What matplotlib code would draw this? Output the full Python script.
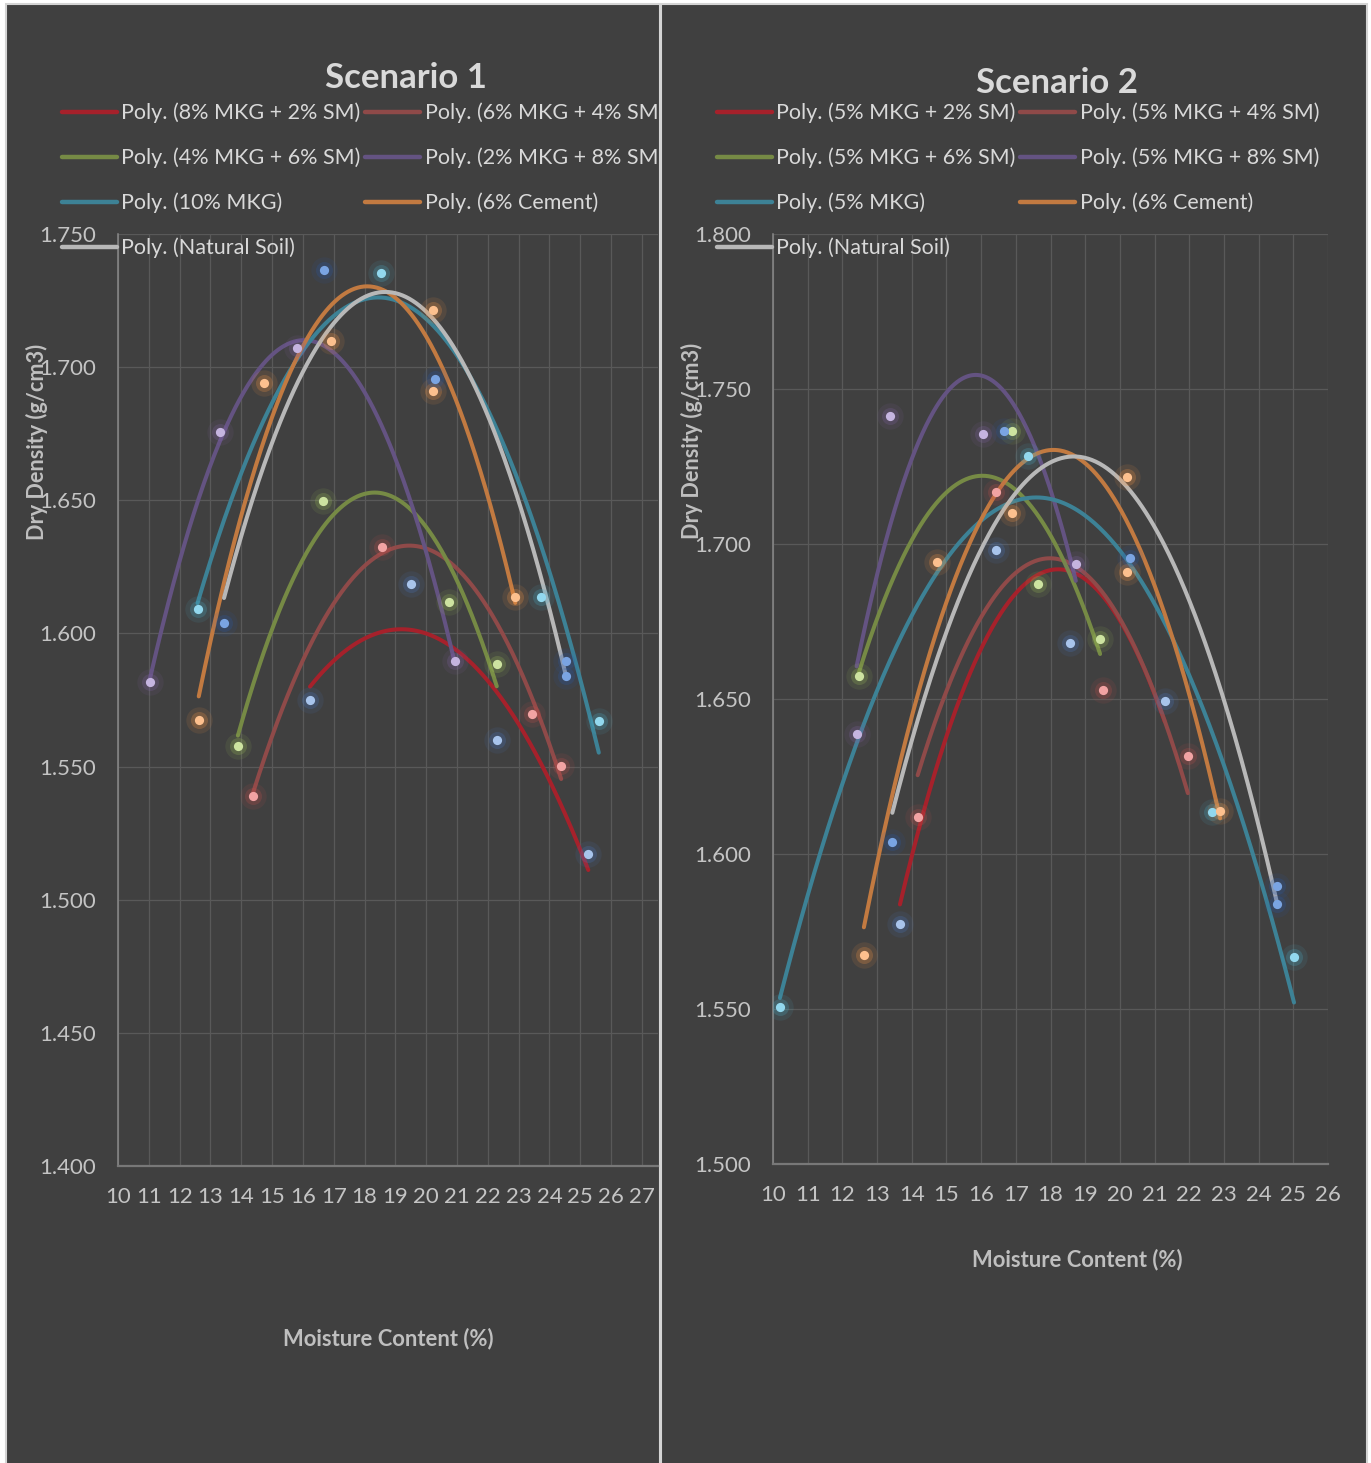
import numpy as np
import matplotlib
matplotlib.use('Agg')
import matplotlib.pyplot as plt
from matplotlib.patches import Rectangle
from matplotlib.ticker import FormatStrFormatter

W, H = 1371, 1463
DPI = 100
plt.rcParams['font.family'] = ['Lato', 'DejaVu Sans']

# ---------------- data (moisture content %, dry density g/cm3) ----------------
# Scenario 1
s1_8mkg_2sm_x = [16.23, 19.51, 22.29, 25.26]
s1_8mkg_2sm_y = [1.575, 1.6185, 1.560, 1.517]
s1_6mkg_4sm_x = [14.37, 18.56, 23.42, 24.38]
s1_6mkg_4sm_y = [1.539, 1.6324, 1.5697, 1.5502]
s1_4mkg_6sm_x = [13.89, 16.65, 20.73, 22.29]
s1_4mkg_6sm_y = [1.5577, 1.6497, 1.6118, 1.5886]
s1_2mkg_8sm_x = [11.04, 13.30, 15.80, 20.92]
s1_2mkg_8sm_y = [1.5817, 1.6756, 1.7073, 1.5896]
s1_10mkg_x = [12.58, 18.53, 23.74, 25.60]
s1_10mkg_y = [1.609, 1.7355, 1.6136, 1.5672]
# Scenario 2
s2_5mkg_2sm_x = [13.66, 16.43, 18.57, 21.29]
s2_5mkg_2sm_y = [1.5774, 1.698, 1.6682, 1.6493]
s2_5mkg_4sm_x = [14.17, 16.43, 19.50, 21.96]
s2_5mkg_4sm_y = [1.6119, 1.7168, 1.6529, 1.6316]
s2_5mkg_6sm_x = [12.47, 16.89, 17.65, 19.43]
s2_5mkg_6sm_y = [1.6574, 1.7364, 1.6871, 1.6694]
s2_5mkg_8sm_x = [12.41, 13.38, 16.05, 18.73]
s2_5mkg_8sm_y = [1.6387, 1.7413, 1.7355, 1.6935]
s2_5mkg_x = [10.20, 17.35, 22.67, 25.02]
s2_5mkg_y = [1.5506, 1.7284, 1.6135, 1.5669]
# common to both scenarios
cement_x = [12.62, 14.74, 16.90, 20.21, 20.21, 22.89]
cement_y = [1.5674, 1.6941, 1.710, 1.7215, 1.691, 1.6138]
natural_x = [13.44, 16.67, 20.28, 24.54, 24.54]
natural_y = [1.6039, 1.7365, 1.6955, 1.5897, 1.584]

s1_labels = ['8% MKG + 2% SM', '6% MKG + 4% SM', '4% MKG + 6% SM', '2% MKG + 8% SM',
             '10% MKG', '6% Cement', 'Natural Soil']
s2_labels = ['5% MKG + 2% SM', '5% MKG + 4% SM', '5% MKG + 6% SM', '5% MKG + 8% SM',
             '5% MKG', '6% Cement', 'Natural Soil']
s1_xticks = list(range(10, 28))
s2_xticks = list(range(10, 27))
s1_yticks = [1.400, 1.450, 1.500, 1.550, 1.600, 1.650, 1.700, 1.750]
s2_yticks = [1.500, 1.550, 1.600, 1.650, 1.700, 1.750, 1.800]

# ---------------- styles ----------------
BG = '#404040'
line_colors = ['#a6212b', '#8f4a49', '#768a45', '#645382', '#3d8296', '#c27a41', '#b8b8b8']
face_colors = ['#a8c4ec', '#f2a3a3', '#cde3a0', '#c5b4e0', '#92d8ee', '#fdc08e', '#7aa4e2']
glow_colors = ['#4a78c0', '#c0504d', '#9bbb59', '#8064a2', '#4bacc6', '#f79646', '#2a5aa8']

fig = plt.figure(figsize=(W / DPI, H / DPI), dpi=DPI, facecolor='white')


def fx(p):
    return p / W


def fy(p):
    return 1 - p / H


# chart backgrounds / frames
left_rect = Rectangle((fx(6), fy(1490)), fx(660) - fx(6), fy(4) - fy(1490),
                      transform=fig.transFigure, facecolor=BG, edgecolor='#d4d4d4',
                      lw=1.5, zorder=-1)
right_rect = Rectangle((fx(661), fy(1490)), fx(1367) - fx(661), fy(4) - fy(1490),
                       transform=fig.transFigure, facecolor=BG, edgecolor='#d4d4d4',
                       lw=1.5, zorder=1)
fig.add_artist(left_rect)
fig.add_artist(right_rect)

ax1 = fig.add_axes([fx(118), fy(1166), fx(658) - fx(118), fy(234) - fy(1166)])
ax2 = fig.add_axes([fx(773), fy(1164), fx(1328) - fx(773), fy(234) - fy(1164)])
ax1.set_zorder(0)
ax2.set_zorder(2)


def style_axis(ax, xlim, ylim, xticks, yticks):
    ax.set_facecolor(BG)
    ax.set_xlim(*xlim)
    ax.set_ylim(*ylim)
    ax.set_xticks(xticks)
    ax.set_yticks(yticks)
    ax.yaxis.set_major_formatter(FormatStrFormatter('%.3f'))
    ax.grid(True, color='#595959', lw=0.9, zorder=0)
    ax.set_axisbelow(True)
    for s in ('top', 'right'):
        ax.spines[s].set_visible(False)
    ax.spines['left'].set_color('#8a8a8a')
    ax.spines['left'].set_linewidth(1.1)
    ax.spines['bottom'].set_color('#787878')
    ax.spines['bottom'].set_linewidth(1.6)
    ax.tick_params(axis='both', length=0, labelcolor='#c4c4c4', labelsize=16)
    ax.tick_params(axis='x', pad=15)
    ax.tick_params(axis='y', pad=16)


def draw_series(ax, x, y, i, label):
    x = np.asarray(x, dtype=float)
    y = np.asarray(y, dtype=float)
    coef = np.polyfit(x, y, 2)
    xs = np.linspace(x.min(), x.max(), 300)
    ln, = ax.plot(xs, np.polyval(coef, xs), color=line_colors[i], lw=2.9,
                  solid_capstyle='round', label='Poly. (%s)' % label, zorder=3)
    ax.scatter(x, y, s=360, color=glow_colors[i], alpha=0.11, lw=0, zorder=4)
    ax.scatter(x, y, s=150, color=glow_colors[i], alpha=0.24, lw=0, zorder=4)
    ax.scatter(x, y, s=44, color=face_colors[i], lw=0, zorder=5)
    return ln


style_axis(ax1, (10, 10 + 540 / 30.82), (1.40, 1.75), s1_xticks, s1_yticks)
style_axis(ax2, (10, 26), (1.50, 1.80), s2_xticks, s2_yticks)

s1_series = [(s1_8mkg_2sm_x, s1_8mkg_2sm_y), (s1_6mkg_4sm_x, s1_6mkg_4sm_y),
             (s1_4mkg_6sm_x, s1_4mkg_6sm_y), (s1_2mkg_8sm_x, s1_2mkg_8sm_y),
             (s1_10mkg_x, s1_10mkg_y), (cement_x, cement_y), (natural_x, natural_y)]
s2_series = [(s2_5mkg_2sm_x, s2_5mkg_2sm_y), (s2_5mkg_4sm_x, s2_5mkg_4sm_y),
             (s2_5mkg_6sm_x, s2_5mkg_6sm_y), (s2_5mkg_8sm_x, s2_5mkg_8sm_y),
             (s2_5mkg_x, s2_5mkg_y), (cement_x, cement_y), (natural_x, natural_y)]

h1 = [draw_series(ax1, sx, sy, i, lab) for i, ((sx, sy), lab) in enumerate(zip(s1_series, s1_labels))]
h2 = [draw_series(ax2, sx, sy, i, lab) for i, ((sx, sy), lab) in enumerate(zip(s2_series, s2_labels))]

order = [0, 2, 4, 6, 1, 3, 5]
for ax, hs, x0 in ((ax1, h1, 62), (ax2, h2, 717)):
    leg = ax.legend([hs[k] for k in order], [hs[k].get_label() for k in order],
                    ncol=2, loc='upper left', bbox_to_anchor=(fx(x0), fy(102.5)),
                    bbox_transform=fig.transFigure, frameon=False, borderpad=0,
                    borderaxespad=0, handlelength=2.55, handletextpad=0.2,
                    columnspacing=0.22, labelspacing=1.14, fontsize=15.5,
                    labelcolor='#d9d9d9')
    for lh in leg.get_lines():
        lh.set_linewidth(3.2)

# titles and axis titles
fig.text(fx(406), fy(78), 'Scenario 1', ha='center', va='center', fontsize=25,
         fontweight='bold', color='#d9d9d9', zorder=3)
fig.text(fx(1057), fy(83), 'Scenario 2', ha='center', va='center', fontsize=25,
         fontweight='bold', color='#d9d9d9', zorder=3)
fig.text(fx(37), fy(442), 'Dry Density (g/cm3)', rotation=90, ha='center', va='center',
         fontsize=15.6, fontweight='bold', color='#bfbfbf', zorder=3)
fig.text(fx(692), fy(441), 'Dry Density (g/cm3)', rotation=90, ha='center', va='center',
         fontsize=15.6, fontweight='bold', color='#bfbfbf', zorder=3)
fig.text(fx(388), fy(1339), 'Moisture Content (%)', ha='center', va='center',
         fontsize=15.8, fontweight='bold', color='#bfbfbf', zorder=3)
fig.text(fx(1077), fy(1260), 'Moisture Content (%)', ha='center', va='center',
         fontsize=15.8, fontweight='bold', color='#bfbfbf', zorder=3)

fig.savefig('out.png', dpi=DPI, facecolor='white')
